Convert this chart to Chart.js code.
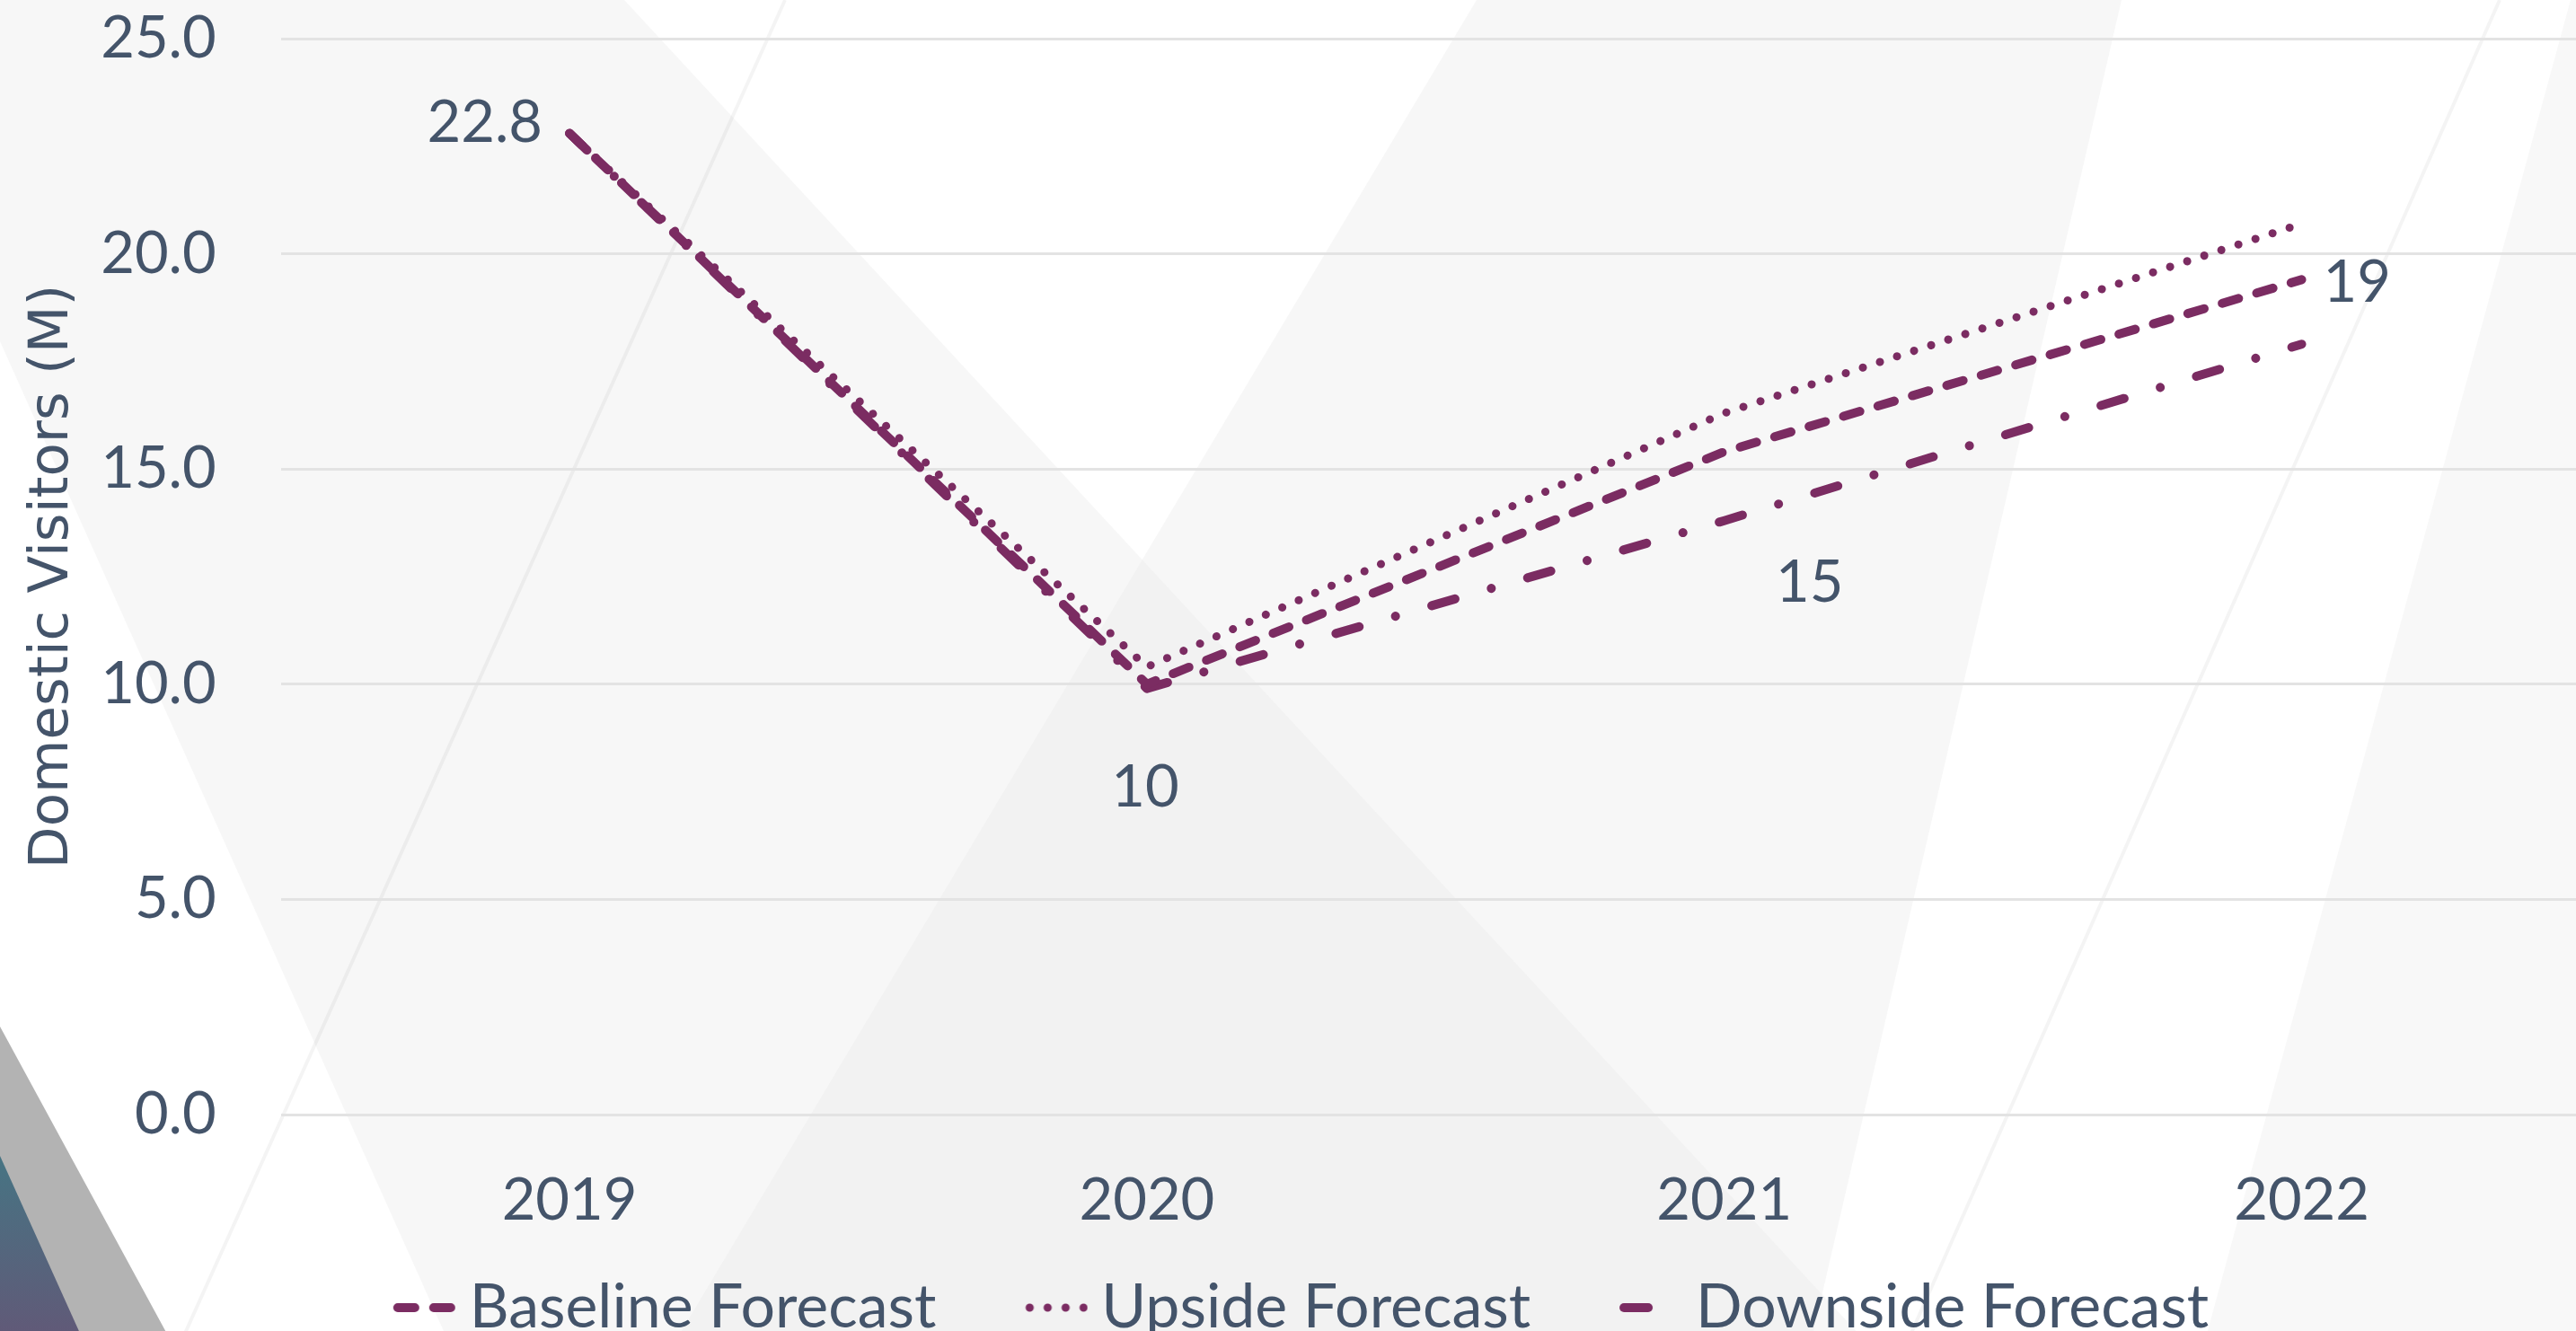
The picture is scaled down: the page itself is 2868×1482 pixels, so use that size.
<!DOCTYPE html>
<html>
<head>
<meta charset="utf-8">
<script src="https://cdn.jsdelivr.net/npm/chart.js@4.4.0/dist/chart.umd.min.js"></script>
<style>
  html, body { margin: 0; padding: 0; overflow: hidden; background: #fff; }
  #wrap { position: relative; width: 2884px; height: 1500px; }
</style>
</head>
<body>
<div id="wrap"><canvas id="chart"></canvas></div>
<script>
// data
var years = ['2019', '2020', '2021', '2022'];
var baseline = [22.8, 10.0, 15.4, 19.4];
var upside = [22.8, 10.4, 16.3, 20.7];
var downside = [22.8, 9.9, 13.8, 17.9];
var seriesNames = ['Baseline Forecast', 'Upside Forecast', 'Downside Forecast'];
var yTicks = [0, 5, 10, 15, 20, 25];
var dataLabels = ['22.8', '10', '15', '19'];   // labels on the baseline series

var plum = '#7B2C62';
var slate = '#44546A';
var tickFont = { family: 'Lato', size: 65 };

// where each baseline label sits relative to its point
var labelPlace = [
    { dx: -30, dy: -11, align: 'right' },
    { dx: -2, dy: 115, align: 'center' },
    { dx: 95, dy: 146, align: 'center' },
    { dx: 24, dy: 4, align: 'left' }
];

// small line-style swatches for the legend
function swatch(dash, width) {
    var cv = document.createElement('canvas');
    cv.width = 168; cv.height = 20;
    var g = cv.getContext('2d');
    g.strokeStyle = plum;
    g.lineWidth = width;
    g.lineCap = 'round';
    g.setLineDash(dash);
    g.beginPath();
    g.moveTo(103, 10);
    g.lineTo(163, 10);
    g.stroke();
    return cv;
}
var dashes = [[19, 21], [0.1, 19.9], [27, 42, 0.1, 42]];
var widths = [10, 9, 10];
var swatches = [swatch(dashes[0], widths[0]), swatch(dashes[1], widths[1]), swatch(dashes[2], widths[2])];

// faceted slide background
var facets = {
    id: 'facets',
    afterLayout: function(chart) {
        // nudge the legend row a little left, as in the slide
        chart.legend.left -= 33;
        chart.legend.right -= 33;
    },
    beforeDraw: function(chart) {
        var c = chart.ctx;
        function path(pts) {
            c.beginPath();
            c.moveTo(pts[0][0], pts[0][1]);
            for (var i = 1; i < pts.length; i++) { c.lineTo(pts[i][0], pts[i][1]); }
            c.closePath();
        }
        function poly(pts, fill) { path(pts); c.fillStyle = fill; c.fill(); }
        function line(x1, y1, x2, y2) {
            c.beginPath(); c.moveTo(x1, y1); c.lineTo(x2, y2); c.stroke();
        }
        var vShape = [[0, 0], [695, 0], [2083, 1500], [502, 1500], [0, 380]];
        var band = [[1644, 0], [2362, 0], [2015, 1500], [748, 1500]];
        c.save();
        c.fillStyle = '#ffffff';
        c.fillRect(0, 0, chart.width, chart.height);
        poly(vShape, '#F7F7F7');
        poly(band, '#F7F7F7');
        c.save();
        path(vShape); c.clip();
        poly(band, '#F2F2F2');
        c.restore();
        poly([[2862, 0], [2884, 0], [2884, 1500], [2453, 1500]], '#F8F8F8');
        c.strokeStyle = 'rgba(0,0,0,0.045)';
        c.lineWidth = 4;
        line(874, 0, 199, 1500);
        line(2783, 0, 2121, 1500);
        poly([[0, 1143], [194, 1500], [0, 1500]], '#B3B3B3');
        var gr = c.createLinearGradient(0, 1287, 0, 1482);
        gr.addColorStop(0, '#467483');
        gr.addColorStop(1, '#605A78');
        poly([[0, 1287], [96, 1500], [0, 1500]], gr);
        c.restore();
    }
};

var pointLabels = {
    id: 'pointLabels',
    afterDatasetsDraw: function(chart) {
        var meta = chart.getDatasetMeta(0);
        var c = chart.ctx;
        c.save();
        c.font = '65px Lato';
        c.fillStyle = slate;
        c.textBaseline = 'middle';
        meta.data.forEach(function(pt, i) {
            var o = labelPlace[i];
            c.textAlign = o.align;
            c.fillText(dataLabels[i], pt.x + o.dx, pt.y + o.dy);
        });
        c.restore();
    }
};

function series(i, values) {
    return {
        label: seriesNames[i],
        data: values,
        borderColor: plum,
        backgroundColor: plum,
        borderWidth: widths[i],
        borderDash: dashes[i],
        borderCapStyle: 'round',
        borderJoinStyle: 'round',
        pointRadius: 0,
        tension: 0,
        fill: false
    };
}

var ctx = document.getElementById('chart').getContext('2d');
window.visitorsChart = new Chart(ctx, {
    type: 'line',
    data: {
        labels: years,
        datasets: [series(0, baseline), series(1, upside), series(2, downside)]
    },
    options: {
        responsive: true,
        maintainAspectRatio: false,
        animation: false,
        layout: { padding: 0 },
        plugins: {
            legend: {
                position: 'bottom',
                labels: {
                    usePointStyle: true,
                    pointStyleWidth: 130,
                    padding: 20,
                    color: slate,
                    font: { family: 'Lato', size: 68 },
                    generateLabels: function(chart) {
                        var items = Chart.defaults.plugins.legend.labels.generateLabels(chart);
                        items.forEach(function(it, i) { it.pointStyle = swatches[i]; });
                        return items;
                    }
                }
            },
            tooltip: { enabled: false }
        },
        scales: {
            x: {
                offset: true,
                grid: { display: false, drawTicks: false },
                border: { display: false },
                ticks: { color: slate, font: tickFont, padding: 57 },
                afterFit: function(scale) { scale.height -= 31; }
            },
            y: {
                min: 0,
                max: 25,
                afterBuildTicks: function(axis) {
                    axis.ticks = yTicks.map(function(v) { return { value: v }; });
                },
                ticks: {
                    color: slate,
                    font: tickFont,
                    padding: 4,
                    callback: function(v) { return Number(v).toFixed(1); }
                },
                grid: {
                    color: '#E3E3E3',
                    lineWidth: 3,
                    drawTicks: true,
                    tickLength: 68,
                    tickColor: 'rgba(0,0,0,0)'
                },
                border: { display: false },
                title: {
                    display: true,
                    text: 'Domestic Visitors (M)',
                    color: slate,
                    font: { family: 'DejaVu Sans', size: 61 },
                    padding: { top: 23, bottom: 17 }
                },
                afterFit: function(scale) { scale.width -= 5; }
            }
        }
    },
    plugins: [facets, pointLabels]
});
</script>
</body>
</html>
